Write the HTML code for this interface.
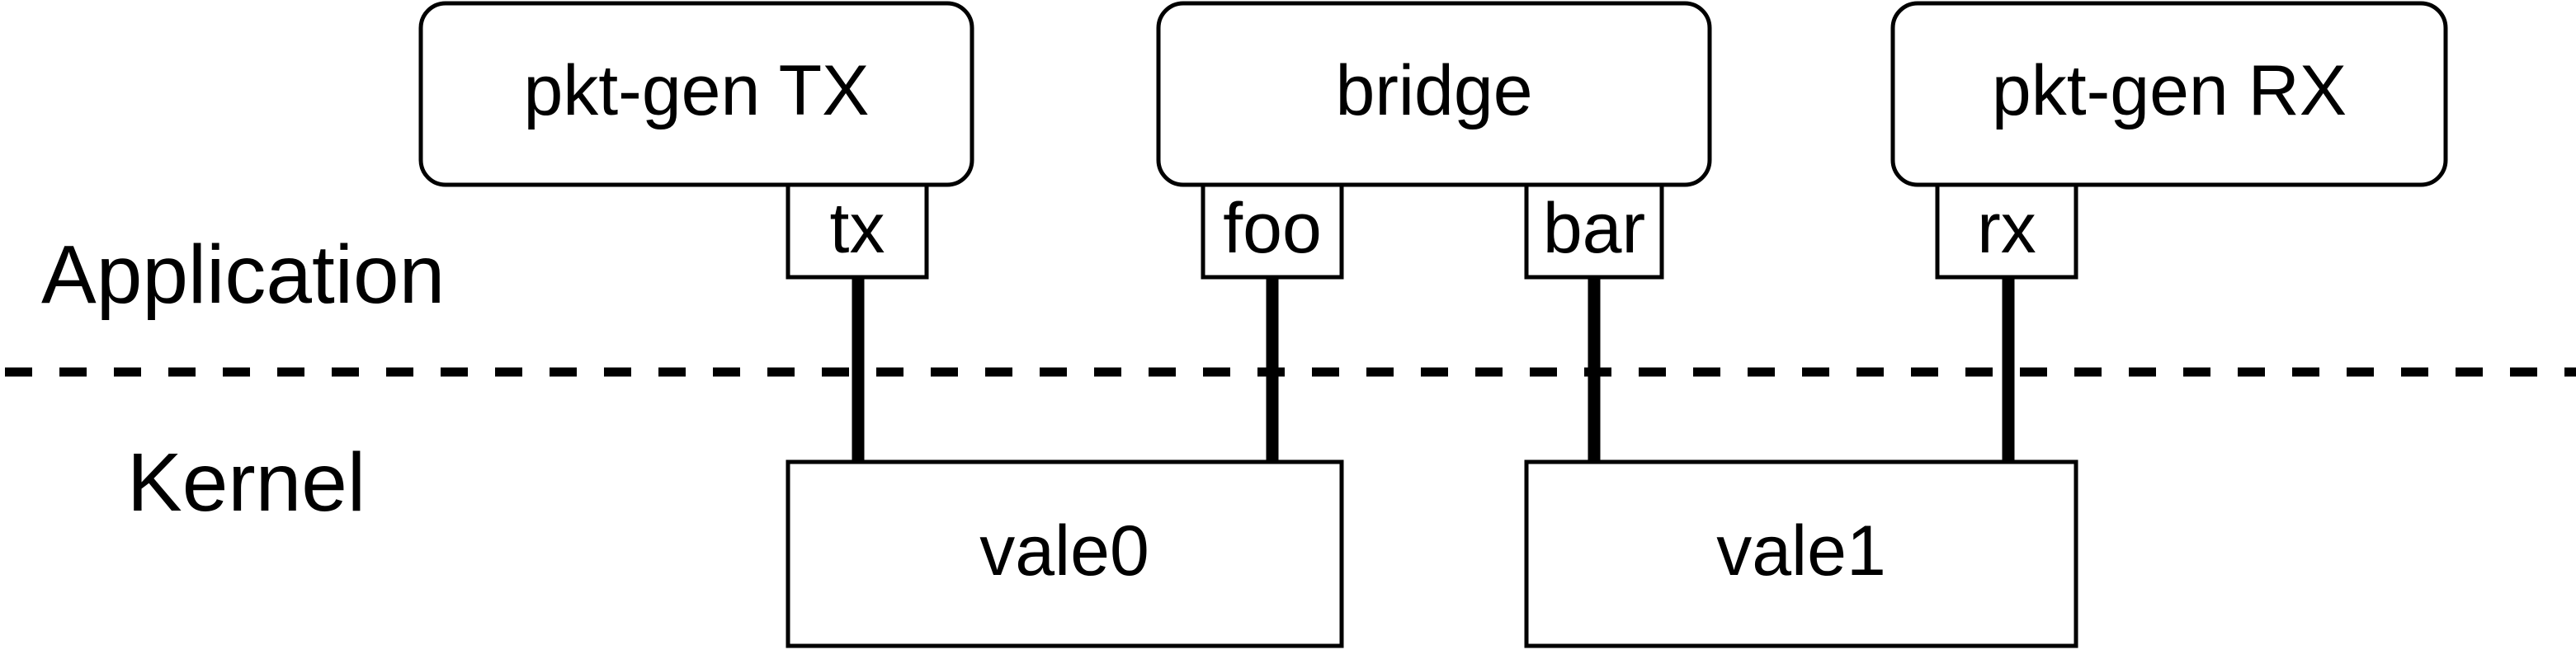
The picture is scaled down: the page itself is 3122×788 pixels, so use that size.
<!DOCTYPE html>
<html><head><meta charset="utf-8"><style>html,body{margin:0;padding:0;background:#fff;}svg{display:block}</style></head>
<body>
<svg width="3122" height="788" viewBox="0 0 3122 788" xmlns="http://www.w3.org/2000/svg" font-family="'Liberation Sans', Arial, sans-serif">
<g fill="#fff" stroke="#000" stroke-width="5">
<rect x="510" y="4" width="668" height="220" rx="30"/>
<rect x="1404" y="4" width="668" height="220" rx="30"/>
<rect x="2294" y="4" width="670" height="220" rx="30"/>
<rect x="955" y="224" width="168" height="112"/>
<rect x="1458" y="224" width="168" height="112"/>
<rect x="1850" y="224" width="164" height="112"/>
<rect x="2348" y="224" width="168" height="112"/>
<rect x="955" y="560" width="671" height="223"/>
<rect x="1850" y="560" width="666" height="223"/>
</g>
<line x1="6" y1="451" x2="3122" y2="451" stroke="#000" stroke-width="11" stroke-dasharray="33 33"/>
<g stroke="#000" stroke-width="15">
<line x1="1040" y1="336" x2="1040" y2="560"/>
<line x1="1542" y1="336" x2="1542" y2="560"/>
<line x1="1932" y1="336" x2="1932" y2="560"/>
<line x1="2434" y1="336" x2="2434" y2="560"/>
</g>
<g font-size="86" text-anchor="middle" fill="#000">
<text x="844" y="139">pkt-gen TX</text>
<text x="1738" y="139">bridge</text>
<text x="2629" y="139">pkt-gen RX</text>
<text x="1039" y="306">tx</text>
<text x="1542" y="306">foo</text>
<text x="1932" y="306">bar</text>
<text x="2432" y="306">rx</text>
<text x="1290" y="697">vale0</text>
<text x="2183" y="697">vale1</text>
</g>
<g font-size="100" fill="#000">
<text x="50" y="367">Application</text>
<text x="154" y="619">Kernel</text>
</g>
</svg>
</body></html>
